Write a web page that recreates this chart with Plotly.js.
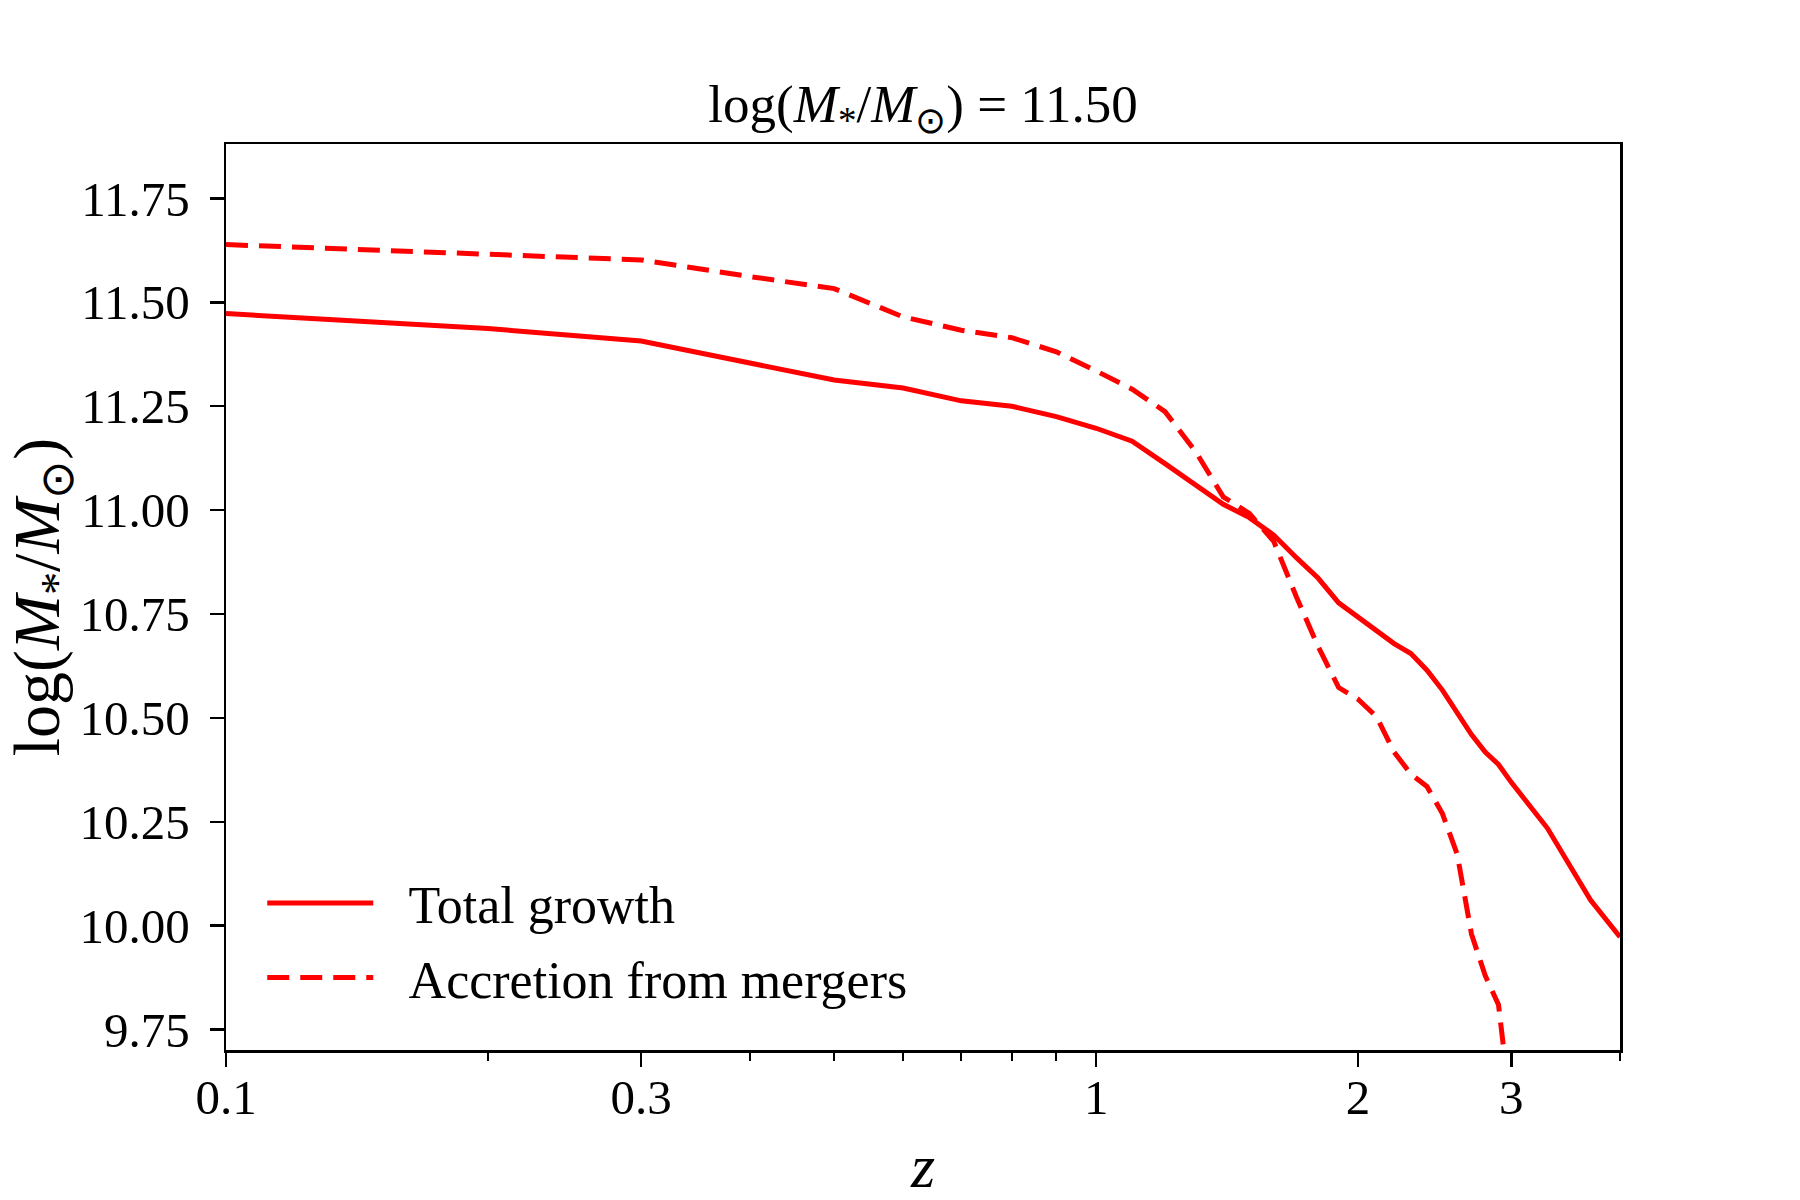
<!DOCTYPE html>
<html>
<head>
<meta charset="utf-8">
<script src="https://cdn.plot.ly/plotly-3.0.1.min.js"></script>
<style>html,body{margin:0;padding:0;background:#fff;}#plot{width:1800px;height:1200px;}</style>
</head>
<body>
<div id="plot"></div>
<script>
// Redshift grid
const zTotal = [0.1, 0.2, 0.3, 0.4, 0.5, 0.6, 0.7, 0.8, 0.9, 1.0, 1.1, 1.2, 1.3, 1.4, 1.5, 1.6, 1.7, 1.8, 1.9, 2.0, 2.1, 2.2, 2.3, 2.4, 2.5, 2.6, 2.7, 2.8, 2.9, 3.0, 3.3, 3.7, 4.0];
const logMTotal = [11.473, 11.437, 11.407, 11.355, 11.313, 11.294, 11.263, 11.250, 11.225, 11.197, 11.166, 11.112, 11.062, 11.014, 10.982, 10.940, 10.885, 10.836, 10.777, 10.743, 10.707, 10.679, 10.655, 10.615, 10.567, 10.510, 10.460, 10.418, 10.388, 10.345, 10.235, 10.062, 9.973];

const zMerger = [0.1, 0.2, 0.3, 0.4, 0.5, 0.6, 0.7, 0.8, 0.9, 1.0, 1.1, 1.2, 1.3, 1.4, 1.5, 1.6, 1.7, 1.8, 1.9, 2.0, 2.1, 2.2, 2.3, 2.4, 2.5, 2.6, 2.7, 2.8, 2.9, 3.0];
const logMMerger = [11.639, 11.614, 11.602, 11.562, 11.533, 11.465, 11.433, 11.415, 11.381, 11.335, 11.291, 11.237, 11.142, 11.032, 10.992, 10.925, 10.790, 10.671, 10.573, 10.545, 10.503, 10.418, 10.365, 10.335, 10.270, 10.172, 9.980, 9.880, 9.810, 9.550];

const seriesNames = ["Total growth", "Accretion from mergers"];
const xTickVals = [0.1, 0.3, 1, 2, 3];
const xTickText = ["0.1", "0.3", "1", "2", "3"];
const xMinorVals = [0.2, 0.4, 0.5, 0.6, 0.7, 0.8, 0.9, 4];
const yTickVals = [9.75, 10.0, 10.25, 10.5, 10.75, 11.0, 11.25, 11.5, 11.75];
const yTickText = ["9.75", "10.00", "10.25", "10.50", "10.75", "11.00", "11.25", "11.50", "11.75"];

const FONT = "Liberation Serif, Times New Roman, serif";
const LEGEND_PAD = "\u00a0\u00a0\u200a"; // gap between legend sample and label

const traces = [
  {x: zTotal, y: logMTotal, name: LEGEND_PAD + seriesNames[0], mode: "lines", legendgroup: "a",
   line: {color: "#ff0000", width: 5}},
  {x: zMerger, y: logMMerger, name: LEGEND_PAD + seriesNames[1], mode: "lines", legendgroup: "b",
   line: {color: "#ff0000", width: 5, dash: "22px,11px"}}
];

const layout = {
  width: 1800, height: 1200,
  paper_bgcolor: "#ffffff", plot_bgcolor: "#ffffff",
  margin: {l: 226, r: 180, t: 144, b: 150, pad: 0},
  font: {family: FONT, color: "#000", size: 49},
  title: {text: "log(<i>M</i><sub>*</sub>/<i>M</i><sub>⊙</sub>) = 11.50", font: {family: FONT, size: 53, color: "#000"},
          xref: "paper", x: 0.5, xanchor: "center", yref: "container", y: 1 - 103/1200, yanchor: "middle"},
  xaxis: {
    type: "log", range: [-1, Math.log10(4)],
    showgrid: false, zeroline: false,
    showline: true, linecolor: "#000", linewidth: 2.5, mirror: true,
    ticks: "outside", ticklen: 14, tickwidth: 2.5, tickcolor: "#000",
    tickmode: "array", tickvals: xTickVals, ticktext: xTickText,
    tickfont: {family: FONT, size: 49, color: "#000"},
    ticklabelstandoff: -11,
    minor: {tickmode: "array", tickvals: xMinorVals, ticks: "outside", ticklen: 8, tickwidth: 2, tickcolor: "#000", showgrid: false},
    title: {text: "<i>z</i>", font: {family: FONT, size: 62, color: "#000"}, standoff: 31},
    automargin: false
  },
  yaxis: {
    range: [9.701, 11.881],
    showgrid: false, zeroline: false,
    showline: true, linecolor: "#000", linewidth: 2.5, mirror: true,
    ticks: "outside", ticklen: 14, tickwidth: 2.5, tickcolor: "#000",
    tickmode: "array", tickvals: yTickVals, ticktext: yTickText,
    tickfont: {family: FONT, size: 49, color: "#000"},
    ticklabelstandoff: 10,
    title: {text: "log(<i>M</i><sub>*</sub>/<i>M</i><sub>⊙</sub>)", font: {family: FONT, size: 66, color: "#000"}, standoff: 15},
    automargin: false
  },
  showlegend: true,
  legend: {
    x: 0.026, xanchor: "left", y: 0.1207, yanchor: "middle",
    bgcolor: "rgba(0,0,0,0)", borderwidth: 0,
    font: {family: FONT, size: 52, color: "#000"},
    itemwidth: 106, traceorder: "grouped", tracegroupgap: 4
  }
};

Plotly.newPlot("plot", traces, layout, {staticPlot: true, displayModeBar: false});
</script>
</body>
</html>
